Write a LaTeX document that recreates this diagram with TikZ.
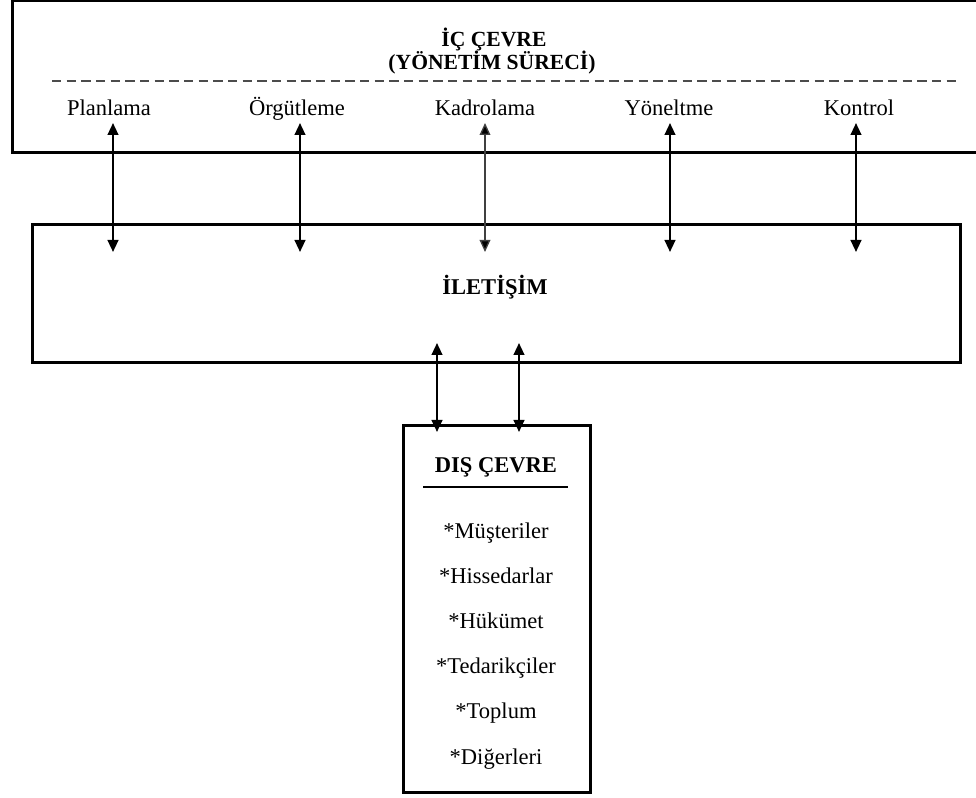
\documentclass[tikz,border=0pt]{standalone}
\usepackage{fontspec}
\setmainfont{Liberation Serif}
\usetikzlibrary{arrows.meta}
\begin{document}
\begin{tikzpicture}[x=0.75pt,y=-0.75pt,
  boxst/.style={draw=black,line width=2.25pt,rectangle,inner sep=0pt},
  lbl/.style={inner sep=0pt,anchor=base,font=\fontsize{16.9}{20}\selectfont},
  ttl/.style={inner sep=0pt,anchor=base,font=\fontsize{16.9}{20}\selectfont\bfseries},
  hdr/.style={inner sep=0pt,anchor=base,font=\fontsize{16.2}{19}\selectfont\bfseries},
  arr/.style={line width=1.6pt,{Triangle[length=9pt,width=8pt]}-{Triangle[length=9pt,width=8pt]}},
  arrthin/.style={line width=1pt,draw=black!75,{Triangle[length=9pt,width=8pt,fill=black]}-{Triangle[length=9pt,width=8pt,fill=black]}}]
\useasboundingbox (0,0) rectangle (976,798);
% boxes
\node[boxst,minimum width=733.5pt,minimum height=114pt] (ic) at (501,77) {};
\node[boxst,minimum width=696pt,minimum height=103.5pt] (il) at (496,294) {};
\node[boxst,minimum width=140.25pt,minimum height=275.25pt] (dis) at (496.5,609.5) {};
% title
\node[hdr] (t1) at (494,47) {İÇ ÇEVRE};
\node[hdr] (t2) at (492,70) {(YÖNETİM SÜRECİ)};
\coordinate (dl) at (52,81);
\coordinate (dr) at (961,81);
\draw[line width=1.2pt,draw=black!70,dash pattern=on 7pt off 4pt] (dl) -- (dr);
% labels
\node[lbl] (pl) at (109,116) {Planlama};
\node[lbl] (or) at (297,116) {Örgütleme};
\node[lbl] (ka) at (485,116) {Kadrolama};
\node[lbl] (yo) at (669,116) {Yöneltme};
\node[lbl] (ko) at (859,116) {Kontrol};
% arrow ends
\coordinate (a1) at (113,123); \coordinate (b1) at (113,252);
\coordinate (a2) at (300,123); \coordinate (b2) at (300,252);
\coordinate (a3) at (485,123); \coordinate (b3) at (485,252);
\coordinate (a4) at (670,123); \coordinate (b4) at (670,252);
\coordinate (a5) at (856,123); \coordinate (b5) at (856,252);
\draw[arr] (a1) -- (b1);
\draw[arr] (a2) -- (b2);
\draw[arrthin] (a3) -- (b3);
\draw[arr] (a4) -- (b4);
\draw[arr] (a5) -- (b5);
% iletisim
\node[ttl] (ilt) at (495,295) {İLETİŞİM};
\coordinate (c1) at (437,343); \coordinate (d1) at (437,432);
\coordinate (c2) at (519,343); \coordinate (d2) at (519,432);
\draw[arr] (c1) -- (d1);
\draw[arr] (c2) -- (d2);
% dis cevre
\node[ttl] (dt) at (496,473) {DIŞ ÇEVRE};
\coordinate (ul) at (423,487);
\coordinate (ur) at (568,487);
\draw[line width=1.5pt] (ul) -- (ur);
\node[lbl] (m1) at (496,539) {*Müşteriler};
\node[lbl] (m2) at (496,584) {*Hissedarlar};
\node[lbl] (m3) at (496,629) {*Hükümet};
\node[lbl] (m4) at (496,674) {*Tedarikçiler};
\node[lbl] (m5) at (496,719) {*Toplum};
\node[lbl] (m6) at (496,764) {*Diğerleri};
\end{tikzpicture}
\end{document}
